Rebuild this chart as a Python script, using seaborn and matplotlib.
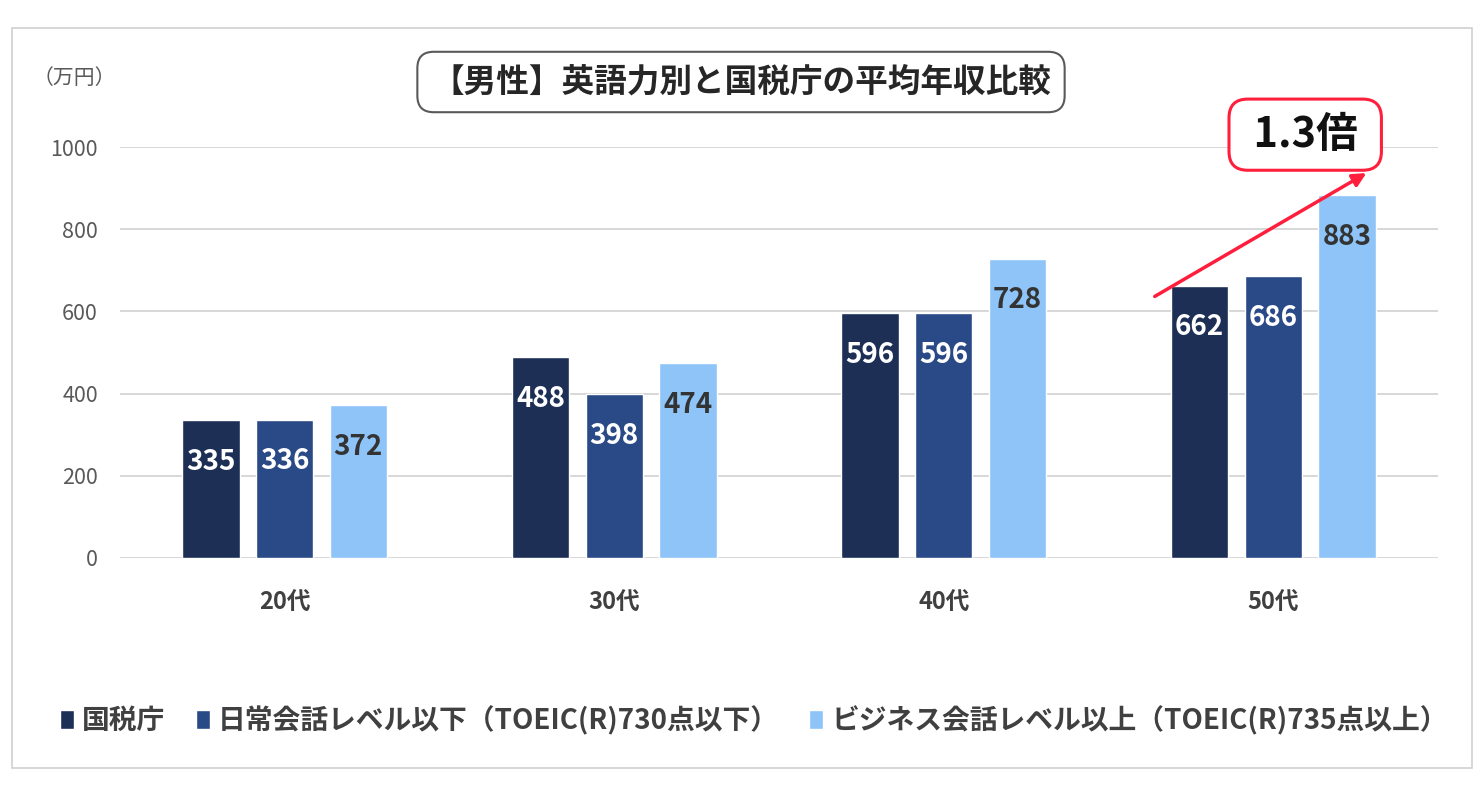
import pandas as pd
import numpy as np
import matplotlib.pyplot as plt
import seaborn as sns

# data
ages = ["20代", "30代", "40代", "50代"]
series = [
    "国税庁",
    "日常会話レベル以下（TOEIC(R)730点以下）",
    "ビジネス会話レベル以上（TOEIC(R)735点以上）",
]
nta = [335, 488, 596, 662]
daily = [336, 398, 596, 686]
business = [372, 474, 728, 883]
colors = ["#1d2f55", "#2a4a87", "#8ec4f8"]

df = pd.DataFrame({
    "age": ages * 3,
    "series": [series[0]] * 4 + [series[1]] * 4 + [series[2]] * 4,
    "value": nta + daily + business,
})

sns.set_theme(style="white")
plt.rcParams['font.family'] = ['Noto Sans CJK JP', 'DejaVu Sans']

fig = plt.figure(figsize=(14.82, 7.92), dpi=100)
ax = fig.add_axes([120 / 1482, 1 - 558 / 792, 1318 / 1482, 411 / 792])

# outer frame
frame = plt.Rectangle((12 / 1482, 1 - 768 / 792), 1460 / 1482, 740 / 792,
                      transform=fig.transFigure, fill=False,
                      edgecolor="#d0d0d0", linewidth=1.2, zorder=0)
fig.patches.append(frame)

sns.barplot(data=df, x="age", y="value", hue="series", palette=colors,
            saturation=1, width=0.67, gap=0.22, ax=ax, legend=True, zorder=3)

ax.set_ylim(0, 1000)
ax.set_xlim(-0.5, 3.5)
ax.set_yticks(range(0, 1001, 200))
ax.yaxis.grid(True, color="#d4d4d4", linewidth=1.3)
ax.set_axisbelow(True)
for s in ax.spines.values():
    s.set_visible(False)
ax.set_xlabel("")
ax.set_ylabel("")
ax.tick_params(axis="y", length=0, pad=16, labelsize=15.5, labelcolor="#595959")
ax.tick_params(axis="x", length=0, pad=24, labelsize=17, labelcolor="#404040")
for t in ax.get_xticklabels():
    t.set_fontweight("bold")

label_colors = ["white", "white", "#333333"]
for cont, lc in zip(ax.containers, label_colors):
    ax.bar_label(cont, label_type="edge", padding=-40, color=lc,
                 fontsize=20, fontweight="bold")

# unit label
fig.text(33 / 1482, 1 - 78 / 792, "（万円）", fontsize=15, color="#595959",
         ha="left", va="center")

# title box
fig.text(741 / 1482, 1 - 82 / 792, "【男性】英語力別と国税庁の平均年収比較",
         fontsize=23.5, fontweight="bold", color="#262626", ha="center", va="center",
         bbox=dict(boxstyle="round,pad=0.42,rounding_size=0.5", fc="white",
                   ec="#595959", lw=1.5))

# arrow + callout
ax.annotate("", xy=(3.29, 940), xytext=(2.633, 633),
            arrowprops=dict(arrowstyle="-|>", color="#ff1f3d", lw=2.5,
                            mutation_scale=20),
            annotation_clip=False, zorder=5)
ax.text(3.097, 1030, " 1.3倍 ", fontsize=30, fontweight="bold", color="#111111",
        ha="center", va="center", zorder=6,
        bbox=dict(boxstyle="round,pad=0.35,rounding_size=0.45", fc="white",
                  ec="#ff1f3d", lw=2.2))

# legend
leg = ax.legend(loc="center", bbox_to_anchor=(0.481, -0.395), ncol=3,
                frameon=False, fontsize=20, handlelength=0.5, handleheight=0.7,
                handletextpad=0.3, columnspacing=1.1)
for t in leg.get_texts():
    t.set_fontweight("bold")
    t.set_color("#404040")

fig.savefig("out.png", dpi=100)
